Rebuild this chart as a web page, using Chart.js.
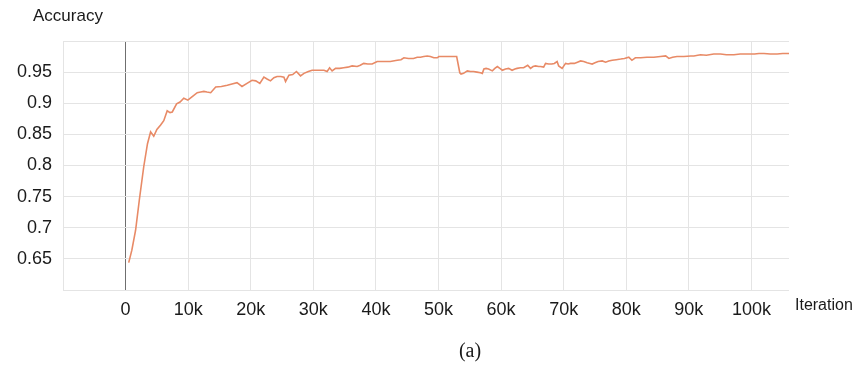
<!DOCTYPE html>
<html>
<head>
<meta charset="utf-8">
<title>Accuracy</title>
<script src="https://cdn.jsdelivr.net/npm/chart.js@4/dist/chart.umd.min.js"></script>
<style>
  html, body { margin: 0; padding: 0; background: #ffffff; }
  canvas { display: block; }
</style>
</head>
<body>
<canvas id="acc" width="862" height="365"></canvas>
<script>
// Training iterations at which accuracy was logged
const iterations = [
  500, 1000, 1600, 2200, 2900, 3500, 4000, 4500, 5000, 5600,
  6100, 6650, 7100, 7460, 8150, 8700, 9300, 9950, 10700, 11450,
  12000, 12500, 13000, 13600, 14400, 15300, 16250, 17000, 17800, 18600,
  19400, 20200, 20800, 21450, 22100, 22600, 23150, 23700, 24200, 24800,
  25300, 25560, 26100, 26700, 27300, 27950, 28500, 29200, 29800, 30700,
  31700, 32200, 32600, 33000, 33550, 34200, 34850, 35500, 36200, 37000,
  37500, 38050, 38700, 39400, 40200, 41200, 42300, 43400, 44000, 44470,
  45200, 46000, 46600, 47100, 47650, 48200, 48700, 49250, 49800, 50050,
  51000, 52000, 52900, 53400, 53600, 54000, 54600, 55100, 55600, 56150,
  56700, 57000, 57250, 57600, 58000, 58600, 59000, 59400, 59800, 60200,
  60700, 61200, 61750, 62200, 62550, 63100, 63600, 64250, 64700, 65100,
  65500, 66000, 66300, 66800, 67100, 67600, 68100, 68500, 68950, 69200,
  69750, 70300, 70700, 71100, 71700, 72200, 72700, 73200, 73750, 74200,
  74550, 75000, 75500, 76150, 76700, 77200, 77750, 78400, 79100, 79700,
  80400, 80900, 81450, 82300, 83300, 84400, 85450, 86300, 86800, 87400,
  88100, 89200, 90300, 90800, 91850, 92800, 93980, 95050, 96000, 97200,
  98200, 99300, 100500, 101200, 102000, 103000, 104100, 105000, 106000
];

// Accuracy value at each logged iteration
const accuracy = [
  0.644, 0.664, 0.696, 0.745, 0.798, 0.835, 0.854, 0.847, 0.858, 0.865,
  0.872, 0.888, 0.885, 0.886, 0.899, 0.902, 0.908, 0.905, 0.911, 0.917,
  0.918, 0.919, 0.918, 0.917, 0.926, 0.927, 0.929, 0.931, 0.933, 0.927,
  0.932, 0.937, 0.936, 0.932, 0.942, 0.939, 0.936, 0.941, 0.943, 0.943,
  0.942, 0.935, 0.945, 0.946, 0.951, 0.944, 0.948, 0.951, 0.953, 0.953,
  0.953, 0.951, 0.957, 0.952, 0.956, 0.956, 0.957, 0.958, 0.960, 0.959,
  0.961, 0.964, 0.963, 0.963, 0.967, 0.967, 0.967, 0.969, 0.970, 0.973,
  0.972, 0.972, 0.974, 0.974, 0.975, 0.976, 0.975, 0.973, 0.973, 0.975,
  0.975, 0.975, 0.975, 0.949, 0.947, 0.948, 0.952, 0.951, 0.951, 0.950,
  0.949, 0.948, 0.955, 0.956, 0.955, 0.952, 0.956, 0.959, 0.956, 0.953,
  0.955, 0.956, 0.953, 0.955, 0.956, 0.957, 0.957, 0.961, 0.956, 0.959,
  0.960, 0.959, 0.959, 0.958, 0.964, 0.963, 0.963, 0.964, 0.967, 0.960,
  0.956, 0.964, 0.963, 0.964, 0.964, 0.966, 0.968, 0.967, 0.965, 0.964,
  0.963, 0.965, 0.967, 0.968, 0.966, 0.968, 0.969, 0.970, 0.971, 0.972,
  0.974, 0.969, 0.973, 0.973, 0.974, 0.974, 0.975, 0.976, 0.972, 0.974,
  0.975, 0.975, 0.976, 0.976, 0.978, 0.977, 0.979, 0.979, 0.978, 0.978,
  0.979, 0.979, 0.979, 0.980, 0.980, 0.979, 0.979, 0.980, 0.980
];

// Axis ranges and tick positions
const xRange = [-10000, 106000];
const xTicks = [-10000, 0, 10000, 20000, 30000, 40000, 50000, 60000, 70000, 80000, 90000, 100000];
const yRange = [0.6, 1.0];
const yTicks = [0.6, 0.65, 0.7, 0.75, 0.8, 0.85, 0.9, 0.95, 1.0];
const yLabelled = [0.65, 0.7, 0.75, 0.8, 0.85, 0.9, 0.95];

const points = iterations.map((it, i) => ({ x: it, y: accuracy[i] }));

const FONT = "'Liberation Sans', Arial, Helvetica, sans-serif";

// Axis titles and the sub-figure caption
const captions = {
  id: 'captions',
  afterDraw(chart) {
    const ctx = chart.ctx;
    ctx.save();
    ctx.fillStyle = '#1a1a1a';
    ctx.textBaseline = 'middle';
    ctx.textAlign = 'left';
    ctx.font = '17px ' + FONT;
    ctx.fillText('Accuracy', 33, 16);
    ctx.font = '16px ' + FONT;
    ctx.fillText('Iteration', 795, 306);
    ctx.textAlign = 'center';
    ctx.font = "20px 'Liberation Serif', 'Times New Roman', serif";
    ctx.fillText('(a)', 470, 352);
    ctx.restore();
  }
};

new Chart(document.getElementById('acc'), {
  type: 'line',
  data: {
    datasets: [{
      data: points,
      borderColor: 'rgb(232, 138, 102)',
      borderWidth: 1.6,
      pointRadius: 0,
      tension: 0,
      fill: false
    }]
  },
  options: {
    responsive: false,
    animation: false,
    layout: { padding: { left: 0, top: 41, right: 73, bottom: 45 } },
    plugins: {
      legend: { display: false },
      tooltip: { enabled: false }
    },
    scales: {
      x: {
        type: 'linear',
        min: xRange[0],
        max: xRange[1],
        afterBuildTicks(scale) { scale.ticks = xTicks.map(v => ({ value: v })); },
        afterFit(scale) { scale.height = 30; },
        border: { display: false },
        grid: {
          drawTicks: false,
          lineWidth: 1,
          color(c) { return c.tick && c.tick.value === 0 ? '#6f6f6f' : '#e4e4e4'; }
        },
        ticks: {
          maxRotation: 0,
          autoSkip: false,
          padding: 9,
          color: '#1a1a1a',
          font: { family: FONT, size: 18 },
          callback(v) {
            if (v < 0) return '';
            return v === 0 ? '0' : (v / 1000) + 'k';
          }
        }
      },
      y: {
        min: yRange[0],
        max: yRange[1],
        afterBuildTicks(scale) { scale.ticks = yTicks.map(v => ({ value: v })); },
        afterFit(scale) { scale.width = 63; },
        border: { display: false },
        grid: { drawTicks: false, color: '#e4e4e4', lineWidth: 1 },
        ticks: {
          padding: 11,
          autoSkip: false,
          color: '#1a1a1a',
          font: { family: FONT, size: 18 },
          callback(v) {
            return yLabelled.some(t => Math.abs(t - v) < 1e-6) ? String(v) : '';
          }
        }
      }
    }
  },
  plugins: [captions]
});
</script>
</body>
</html>
